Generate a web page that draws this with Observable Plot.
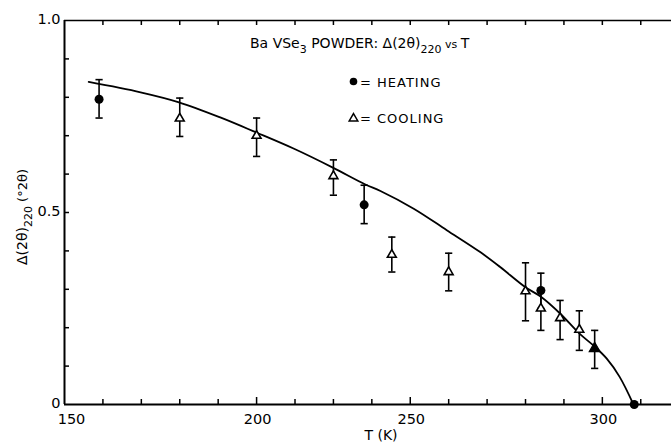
<!DOCTYPE html>
<html><head><meta charset="utf-8">
<script src="https://cdn.jsdelivr.net/npm/d3@7"></script>
<script src="https://cdn.jsdelivr.net/npm/@observablehq/plot@0.6"></script>
<style>
body{margin:0;background:#fff;}
#chart{position:relative;width:671px;height:443px;}
</style>
</head><body><div id="chart"></div>
<script>
// ---- data ----
const temps   = [159, 180, 200, 225, 235, 244, 260, 280, 284, 284, 289, 294, 298, 308.3];
const deltas  = [0.795, 0.745, 0.70, 0.595, 0.52, 0.39, 0.345, 0.295, 0.297, 0.25, 0.225, 0.195, 0.146, 0];
const errLow  = [0.746, 0.698, 0.646, 0.545, 0.471, 0.345, 0.296, 0.218, 0.25, 0.193, 0.169, 0.141, 0.094, null];
const errHigh = [0.846, 0.798, 0.746, 0.637, 0.571, 0.436, 0.394, 0.369, 0.342, 0.297, 0.271, 0.244, 0.193, null];
const modes   = ["heating","cooling","cooling","cooling","heating","cooling","cooling","cooling","heating","cooling","cooling","cooling","both","heating"];

// smooth fitted curve
const fitT = [156.3, 169.8, 179.8, 190.7, 199.8, 212.2, 224.8, 235.4, 240.3, 250.9, 259.5, 268.2, 273.4, 279.9, 284.1, 289.0, 294.0, 298.1, 301.1, 304.5, 308.1];
const fitV = [0.84, 0.813, 0.787, 0.747, 0.709, 0.666, 0.617, 0.573, 0.556, 0.51, 0.454, 0.397, 0.358, 0.306, 0.28, 0.237, 0.185, 0.150, 0.12, 0.072, 0.0];

// axis ticks (as drawn on the original, hand-lettered axis)
const xMajorTicks = [150, 200, 250, 300];
const xMajorLabels = ["150", "200", "250", "300"];
const xMinorTicks = [160, 170, 180, 190, 212.5, 225, 237.5, 260, 270, 280, 290, 310];
const yMajorTicks = [0, 0.5, 1.0];
const yMajorLabels = ["0", "0.5", "1.0"];
const yMinorTicks = [0.1, 0.2, 0.3, 0.4, 0.6, 0.7, 0.8, 0.9];

// The original axis is not uniform: 5 tick steps from 150 to 200, 4 from 200 to 250,
// 5 from 250 to 300. Map T onto tick-step units before the linear scale.
const warp = d3.scaleLinear().domain([150, 200, 250, 300, 310]).range([0, 5, 9, 14, 15]);

// ---- build tables ----
const points = temps.map((t, i) => ({T: t, v: deltas[i], lo: errLow[i], hi: errHigh[i], mode: modes[i]}));
const bars = points.filter(d => d.lo != null);
const fit = fitT.map((t, i) => ({T: t, v: fitV[i]}));

const W = 671, H = 443, ML = 64, MR = 0, MT = 20, MB = 39;
const frameW = W - ML - MR, frameH = H - MT - MB;

const capSymbol = {draw(ctx, size) { const r = Math.sqrt(size / Math.PI); ctx.moveTo(-r, 0); ctx.lineTo(r, 0); }};

const plot = Plot.plot({
  width: W, height: H,
  marginLeft: ML, marginRight: MR, marginTop: MT, marginBottom: MB,
  x: {type: "linear", transform: t => warp(t), domain: [0, 15.8], axis: null},
  y: {domain: [0, 1], axis: null},
  style: {fontFamily: "'DejaVu Sans', sans-serif", fontSize: "14.5px", background: "white", color: "black", overflow: "visible"},
  marks: [
    // frame lines
    Plot.ruleY([0], {stroke: "black", strokeWidth: 2}),
    Plot.ruleY([1], {stroke: "black", strokeWidth: 1.5}),
    Plot.ruleX([150], {x: d => d, stroke: "black", strokeWidth: 2}),
    // inward ticks
    Plot.ruleX(xMinorTicks, {x: d => d, insetTop: frameH - 5, strokeWidth: 1.5}),
    Plot.ruleX(xMajorTicks.slice(1), {x: d => d, insetTop: frameH - 7, strokeWidth: 1.5}),
    Plot.ruleX(xMinorTicks.concat(xMajorTicks.slice(1)), {x: d => d, insetBottom: frameH - 5, strokeWidth: 1.5}),
    Plot.ruleY(yMinorTicks.concat([0.5]), {y: d => d, insetRight: frameW - 5, strokeWidth: 1.5}),
    // tick labels (the first x label sits right of its tick, clear of the "0")
    Plot.text(xMajorTicks.slice(0, 1), {x: d => d, text: (d, i) => xMajorLabels[i], frameAnchor: "bottom", dy: 19, dx: 7}),
    Plot.text(xMajorTicks.slice(1), {x: d => d, text: (d, i) => xMajorLabels[i + 1], frameAnchor: "bottom", dy: 19, dx: 1}),
    Plot.text(yMajorTicks, {y: d => d, text: (d, i) => yMajorLabels[i], frameAnchor: "left", textAnchor: "end", dx: -4, dy: -1}),
    // fitted curve
    Plot.line(fit, {x: "T", y: "v", curve: "catmull-rom", stroke: "black", strokeWidth: 1.8}),
    // error bars
    Plot.ruleX(bars, {x: "T", y1: "lo", y2: "hi", stroke: "black", strokeWidth: 1.6}),
    Plot.dot(bars, {x: "T", y: "lo", symbol: capSymbol, r: 3.6, stroke: "black", strokeWidth: 1.6}),
    Plot.dot(bars, {x: "T", y: "hi", symbol: capSymbol, r: 3.6, stroke: "black", strokeWidth: 1.6}),
    // markers
    Plot.dot(points.filter(d => d.mode === "cooling"), {x: "T", y: "v", symbol: "triangle", r: 3.3, fill: "white", stroke: "black", strokeWidth: 1.6}),
    Plot.dot(points.filter(d => d.mode === "both"), {x: "T", y: "v", symbol: "triangle", r: 4, fill: "black", stroke: "black", strokeWidth: 1.2}),
    Plot.dot(points.filter(d => d.mode === "heating"), {x: "T", y: "v", symbol: "circle", r: 4.5, fill: "black"})
  ]
});

document.getElementById("chart").appendChild(plot);

// ---- annotations (title, legend, axis titles) ----
const svg = d3.select(plot);
const g = svg.append("g").attr("fill", "black").attr("text-anchor", "start")
  .attr("font-family", "'DejaVu Sans', sans-serif");

const title = g.append("text").attr("x", 250).attr("y", 48).attr("font-size", 14);
title.append("tspan").text("Ba VSe");
title.append("tspan").attr("dy", 5).attr("font-size", 11).text("3");
title.append("tspan").attr("dy", -5).text("\u00a0POWDER: \u0394(2\u03b8)");
title.append("tspan").attr("dy", 5).attr("font-size", 11).text("220");
title.append("tspan").attr("dy", -5).attr("font-size", 11).text(" vs ");
title.append("tspan").attr("font-size", 14).text("T");

// legend
g.append("circle").attr("cx", 353.5).attr("cy", 81.5).attr("r", 3.8).attr("fill", "black");
g.append("text").attr("x", 360).attr("y", 86.5).attr("font-size", 13).attr("letter-spacing", 1).text("= HEATING");
g.append("path").attr("d", d3.symbol(d3.symbolTriangle, Math.PI * 3.2 * 3.2)()).attr("transform", "translate(353.5,118.5)")
  .attr("fill", "white").attr("stroke", "black").attr("stroke-width", 1.5);
g.append("text").attr("x", 360).attr("y", 123).attr("font-size", 13).attr("letter-spacing", 1).text("= COOLING");

// x axis title
g.append("text").attr("x", 381).attr("y", 440).attr("text-anchor", "middle").attr("font-size", 14).text("T (K)");

// y axis title
const yl = g.append("text").attr("transform", "translate(27,217) rotate(-90)").attr("text-anchor", "middle").attr("font-size", 14);
yl.append("tspan").text("\u0394(2\u03b8)");
yl.append("tspan").attr("dy", 5).attr("font-size", 11).text("220");
yl.append("tspan").attr("dy", -5).attr("font-size", 13).text(" (\u00b02\u03b8)");
</script>
</body></html>
